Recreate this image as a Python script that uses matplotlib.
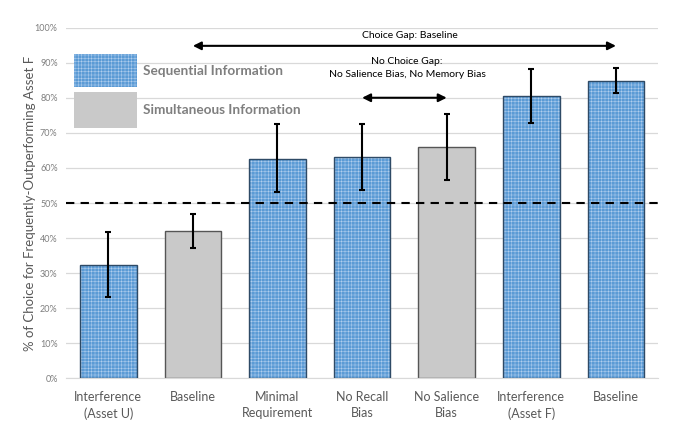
import matplotlib
matplotlib.use("Agg")
import matplotlib.pyplot as plt
from matplotlib.patches import Rectangle
import numpy as np

categories = ["Interference\n(Asset U)", "Baseline", "Minimal\nRequirement", "No Recall\nBias",
              "No Salience\nBias", "Interference\n(Asset F)", "Baseline"]
values = [32.3, 42.1, 62.5, 63.0, 66.0, 80.4, 84.9]
err_low = [23.1, 37.1, 53.1, 53.6, 56.7, 72.8, 81.4]
err_high = [41.6, 47.0, 72.4, 72.6, 75.4, 88.2, 88.5]
sequential = [True, False, True, True, False, True, True]
yticks = list(range(0, 101, 10))
threshold = 50

plt.rcParams['font.family'] = ['Lato', 'DejaVu Sans']
plt.rcParams['hatch.linewidth'] = 0.35

fig = plt.figure(figsize=(6.8, 4.38), dpi=100)
ax = fig.add_axes([0.097, 0.136, 0.871, 0.801])

x = np.arange(len(categories))
blue = "#5b9bd5"
grey = "#c9c9c9"
w = 0.67

for xi, v, s in zip(x, values, sequential):
    if s:
        ax.bar(xi, v, width=w, color=blue, edgecolor="#b3d0ee", hatch="+++++", linewidth=0, zorder=2)
        ax.bar(xi, v, width=w, fill=False, edgecolor="#2e4a66", linewidth=1.0, zorder=3)
    else:
        ax.bar(xi, v, width=w, color=grey, edgecolor="#555555", linewidth=1.0, zorder=2)

lo = np.array(values) - np.array(err_low)
hi = np.array(err_high) - np.array(values)
ax.errorbar(x, values, yerr=[lo, hi], fmt="none", ecolor="black", elinewidth=1.5,
            capsize=2.5, capthick=1.5, zorder=4)

ax.axhline(threshold, color="black", linestyle=(0, (4, 3)), linewidth=1.5, zorder=5)

ax.set_xlim(-0.5, len(categories) - 0.5)
ax.set_ylim(0, 100)
ax.set_yticks(yticks)
ax.set_yticklabels([f"{t}%" for t in yticks], fontsize=6.5, color="#7f7f7f")
ax.set_xticks(x)
ax.set_xticklabels(categories, fontsize=9, color="#595959", linespacing=1.45)
ax.tick_params(axis="both", length=0, pad=6)
ax.tick_params(axis="x", pad=9)
ax.yaxis.grid(True, color="#d9d9d9", linewidth=0.9, zorder=0)
ax.set_axisbelow(True)
for sp in ["left", "right", "top"]:
    ax.spines[sp].set_visible(False)
ax.spines["bottom"].set_color("#d9d9d9")
ax.set_ylabel("% of Choice for Frequently-Outperforming Asset F", fontsize=9.5, color="#595959", labelpad=-1)

# legend (drawn manually to match the layout)
ax.add_patch(Rectangle((-0.405, 83.1), 0.745, 9.5, facecolor=blue, edgecolor="#b3d0ee",
                       hatch="+++++", linewidth=0, zorder=3))
ax.add_patch(Rectangle((-0.405, 71.5), 0.745, 10.1, facecolor=grey, edgecolor="none", zorder=3))
ax.text(0.41, 87.6, "Sequential Information", fontsize=9.8, fontweight="bold", color="#7f7f7f",
        va="center", ha="left")
ax.text(0.41, 76.4, "Simultaneous Information", fontsize=9.8, fontweight="bold", color="#7f7f7f",
        va="center", ha="left")

# annotations
ax.annotate("", xy=(x[1], 94.8), xytext=(x[6], 94.8),
            arrowprops=dict(arrowstyle="<|-|>", color="black", lw=1.5, mutation_scale=12,
                            shrinkA=0, shrinkB=0))
ax.text((x[1] + x[6]) / 2 + 0.06, 97.8, "Choice Gap: Baseline", fontsize=7.5, ha="center", va="center",
        color="black")
ax.annotate("", xy=(x[3], 80.0), xytext=(x[4], 80.0),
            arrowprops=dict(arrowstyle="<|-|>", color="black", lw=1.5, mutation_scale=12,
                            shrinkA=0, shrinkB=0))
ax.text((x[3] + x[4]) / 2 + 0.03, 88.5, "No Choice Gap:\nNo Salience Bias, No Memory Bias",
        fontsize=7.5, ha="center", va="center", color="black", linespacing=1.6)

fig.savefig("out.png", dpi=100)
